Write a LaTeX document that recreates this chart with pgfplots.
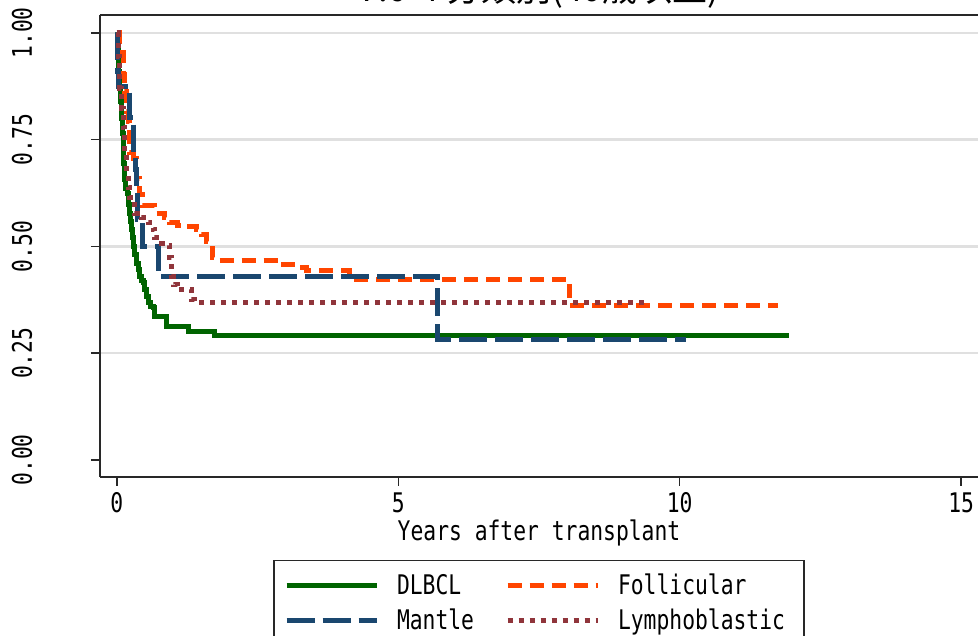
\documentclass[border=0pt]{standalone}
\usepackage{fontspec}
\setmainfont{DejaVu Sans Mono}[FakeStretch=0.79]
\newfontfamily\cjk{Noto Sans CJK JP}
\usepackage{pgfplots}
\pgfplotsset{compat=1.18}

\definecolor{dlbcl}{RGB}{0,100,0}
\definecolor{mantle}{RGB}{26,71,111}
\definecolor{foll}{RGB}{255,69,0}
\definecolor{lympho}{RGB}{144,53,59}
\definecolor{gridc}{RGB}{224,224,224}
\definecolor{axc}{RGB}{40,40,40}

\begin{document}
\begin{tikzpicture}[font=\fontsize{27}{31}\selectfont]
\begin{axis}[
  name=ax, scale only axis, width=878pt, height=462pt,
  xmin=-0.3, xmax=15.3, ymin=-0.04, ymax=1.042,
  clip=false,
  axis x line*=bottom, axis y line*=left,
  axis line style={axc, line width=1.5pt},
  xtick={0,5,10,15}, xticklabels={0,5,10,15},
  ytick={0.25,0.5,0.75,1}, yticklabels={0.25,0.50,0.75,1.00},
  extra y ticks={0}, extra y tick labels={0.00},
  extra y tick style={grid=none},
  ymajorgrids, grid style={gridc, line width=2.5pt},
  tick align=outside, major tick length=9pt,
  tick style={axc, line width=1.5pt},
  xticklabel style={anchor=base, yshift=-27pt},
  yticklabel style={rotate=90, anchor=base, yshift=59pt},
  xlabel={Years after transplant},
  xlabel style={at={(axis description cs:0.5,0)}, anchor=base, yshift=-64pt},
  title={\cjk 7.6-4 分類別(40歳以上)},
  title style={at={(axis description cs:0.5,1)}, anchor=base, yshift=7pt,
    font=\fontsize{35}{40}\selectfont},
  legend columns=2,
  legend cell align=left,
  legend image code/.code={\draw[#1] (0pt,0pt) -- (90pt,0pt);},
  legend style={at={(axis description cs:0.5,0)}, anchor=north, yshift=-83pt,
    draw=axc, line width=1.5pt, inner xsep=10pt, inner ysep=13pt,
    row sep=12pt,
    nodes={inner sep=0pt, text depth=0.25em},
    /tikz/every odd column/.append style={column sep=18pt},
    /tikz/every even column/.append style={column sep=31pt}},
  every axis plot/.append style={line width=5pt},
  const plot,
]
% DLBCL
\addplot[dlbcl] coordinates {
(0,1.0) (0.01,0.97) (0.02,0.945) (0.035,0.91) (0.05,0.875) (0.065,0.84)
(0.08,0.80) (0.095,0.765) (0.11,0.73) (0.125,0.695) (0.142,0.656)
(0.16,0.635) (0.18,0.625) (0.201,0.617) (0.215,0.598) (0.231,0.578)
(0.246,0.558) (0.261,0.539) (0.275,0.52) (0.29,0.50) (0.32,0.48)
(0.35,0.461) (0.38,0.445) (0.409,0.429) (0.44,0.42) (0.467,0.415)
(0.497,0.398) (0.525,0.383) (0.556,0.368) (0.6,0.36) (0.645,0.356)
(0.675,0.336) (0.883,0.312) (1.266,0.300) (1.74,0.291) (11.94,0.291)
};
\addlegendentry{DLBCL}
% Follicular
\addplot[foll, dash pattern=on 14pt off 8pt] coordinates {
(0,1.0) (0.053,0.955) (0.112,0.902) (0.142,0.862) (0.172,0.815)
(0.201,0.792) (0.231,0.721) (0.29,0.707) (0.35,0.66) (0.40,0.621)
(0.462,0.597) (0.675,0.578) (0.853,0.567) (0.941,0.557) (1.08,0.55)
(1.21,0.546) (1.42,0.539) (1.51,0.527) (1.60,0.511) (1.63,0.496)
(1.69,0.473) (1.79,0.468) (2.81,0.457) (3.20,0.45) (3.37,0.443)
(4.14,0.422) (8.05,0.361) (11.74,0.361)
};
\addlegendentry{Follicular}
% Mantle
\addplot[mantle, dash pattern=on 28pt off 8pt] coordinates {
(0,1.0) (0.005,0.95) (0.012,0.91) (0.025,0.875) (0.22,0.84)
(0.225,0.803) (0.29,0.76) (0.295,0.72) (0.335,0.68) (0.34,0.637)
(0.362,0.60) (0.366,0.562) (0.452,0.53) (0.456,0.499) (0.744,0.465)
(0.748,0.429) (5.70,0.283) (10.12,0.283)
};
\addlegendentry{Mantle}
% Lymphoblastic
\addplot[lympho, dash pattern=on 5pt off 6pt] coordinates {
(0,1.0) (0.023,0.944) (0.053,0.909) (0.055,0.871) (0.083,0.824)
(0.112,0.778) (0.142,0.721) (0.172,0.674) (0.201,0.637) (0.231,0.614)
(0.32,0.578) (0.439,0.567) (0.556,0.555) (0.645,0.539) (0.675,0.52)
(0.80,0.508) (0.906,0.503) (0.94,0.475) (0.97,0.452) (0.975,0.429)
(1.0,0.41) (1.08,0.398) (1.33,0.375) (1.385,0.368) (9.41,0.368)
};
\addlegendentry{Lymphoblastic\hspace*{9pt}}
\draw[axc, line width=1.5pt] (rel axis cs:0,1) -- (rel axis cs:1,1);
\end{axis}
\pgfresetboundingbox
\useasboundingbox ([xshift=-100pt,yshift=-159pt]ax.south west)
  rectangle ([yshift=15pt]ax.north east);
\end{tikzpicture}
\end{document}
